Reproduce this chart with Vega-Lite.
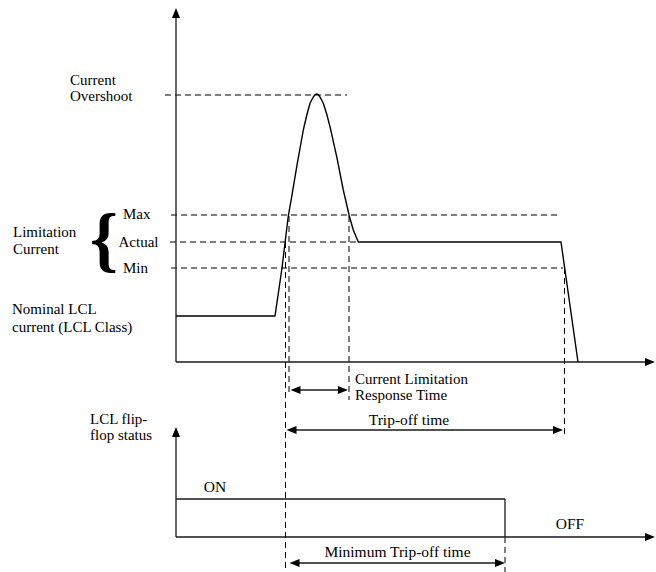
{
  "$schema": "https://vega.github.io/schema/vega-lite/v6.json",
  "width": 656,
  "height": 572,
  "autosize": "none",
  "padding": 0,
  "background": "white",
  "config": {"view": {"stroke": null}},
  "datasets": {
    "guides": [
      {"t": -11, "v": 267, "t2": 171, "v2": 267},
      {"t": -5, "v": 147, "t2": 382, "v2": 147},
      {"t": -6, "v": 120, "t2": 182, "v2": 120},
      {"t": -5, "v": 94, "t2": 387, "v2": 94},
      {"t": 109.5, "v": 120, "t2": 109.5, "v2": -210},
      {"t": 113, "v": 146, "t2": 113, "v2": -30},
      {"t": 173, "v": 146, "t2": 173, "v2": -38},
      {"t": 388.5, "v": 94, "t2": 388.5, "v2": -75},
      {"t": 329, "v": -175, "t2": 329, "v2": -210}
    ],
    "solid": [
      {"t": 0, "v": 0, "t2": 0, "v2": 346},
      {"t": 0, "v": 0, "t2": 471, "v2": 0},
      {"t": 0, "v": -175, "t2": 0, "v2": -73},
      {"t": 0, "v": -175, "t2": 471, "v2": -175},
      {"t": 0, "v": -137, "t2": 329, "v2": -137},
      {"t": 329, "v": -137, "t2": 329, "v2": -175},
      {"t": 118, "v": -28, "t2": 168, "v2": -28},
      {"t": 114, "v": -68, "t2": 383, "v2": -68},
      {"t": 117, "v": -201, "t2": 325, "v2": -201}
    ],
    "current": [
      {"t": 0, "v": 46},
      {"t": 99, "v": 46},
      {"t": 106, "v": 94},
      {"t": 109, "v": 119},
      {"t": 112.3, "v": 146},
      {"t": 115.7, "v": 165.3},
      {"t": 121.3, "v": 198.7},
      {"t": 127.3, "v": 232},
      {"t": 130.7, "v": 246.5},
      {"t": 134, "v": 258.7},
      {"t": 137.3, "v": 265},
      {"t": 139, "v": 267.3},
      {"t": 140.7, "v": 268},
      {"t": 142.4, "v": 267.3},
      {"t": 144, "v": 265},
      {"t": 147.3, "v": 258.7},
      {"t": 150.7, "v": 248},
      {"t": 154, "v": 235.3},
      {"t": 160.7, "v": 205.3},
      {"t": 167.3, "v": 172},
      {"t": 173.3, "v": 146},
      {"t": 177.3, "v": 132},
      {"t": 182.3, "v": 120},
      {"t": 385, "v": 120},
      {"t": 402, "v": 0}
    ],
    "heads": [
      {"t": 0, "v": 349, "dir": "up"},
      {"t": 474, "v": 0, "dir": "right"},
      {"t": 0, "v": -70, "dir": "up"},
      {"t": 474, "v": -175, "dir": "right"},
      {"t": 119.5, "v": -28, "dir": "left"},
      {"t": 167, "v": -28, "dir": "right"},
      {"t": 115.5, "v": -68, "dir": "left"},
      {"t": 382, "v": -68, "dir": "right"},
      {"t": 118.5, "v": -201, "dir": "left"},
      {"t": 324, "v": -201, "dir": "right"}
    ],
    "labelsLeft": [
      {"t": -106, "v": 277, "text": "Current"},
      {"t": -106, "v": 261, "text": "Overshoot"},
      {"t": -163, "v": 125.3, "text": "Limitation"},
      {"t": -163, "v": 107.7, "text": "Current"},
      {"t": -53, "v": 142.7, "text": "Max"},
      {"t": -57.5, "v": 115.3, "text": "Actual"},
      {"t": -53, "v": 89.3, "text": "Min"},
      {"t": -164, "v": 47.7, "text": "Nominal LCL"},
      {"t": -164, "v": 30.3, "text": "current (LCL Class)"},
      {"t": -86, "v": -62, "text": "LCL flip-"},
      {"t": -86, "v": -77.5, "text": "flop status"},
      {"t": 179, "v": -22, "text": "Current Limitation"},
      {"t": 179, "v": -37.5, "text": "Response Time"}
    ],
    "labelsCenter": [
      {"t": 39, "v": -129.7, "text": "ON"},
      {"t": 233, "v": -63, "text": "Trip-off time"},
      {"t": 394, "v": -167, "text": "OFF"},
      {"t": 221.5, "v": -195.3, "text": "Minimum Trip-off time"}
    ],
    "brace": [
      {"t": -58, "v": 99, "text": "{"}
    ]
  },
  "layer": [
    {
      "data": {"name": "guides"},
      "mark": {"type": "rule", "color": "black", "strokeWidth": 1, "strokeDash": [6, 4]},
      "encoding": {
        "x": {"field": "t", "type": "quantitative", "scale": {"domain": [-176, 480], "nice": false, "zero": false}, "axis": null},
        "y": {"field": "v", "type": "quantitative", "scale": {"domain": [-210, 362], "nice": false, "zero": false}, "axis": null},
        "x2": {"field": "t2"},
        "y2": {"field": "v2"}
      }
    },
    {
      "data": {"name": "solid"},
      "mark": {"type": "rule", "color": "#1a1a1a", "strokeWidth": 1.3},
      "encoding": {
        "x": {"field": "t", "type": "quantitative"},
        "y": {"field": "v", "type": "quantitative"},
        "x2": {"field": "t2"},
        "y2": {"field": "v2"}
      }
    },
    {
      "data": {"name": "current"},
      "mark": {"type": "line", "color": "black", "strokeWidth": 1.4, "strokeJoin": "round"},
      "encoding": {
        "x": {"field": "t", "type": "quantitative"},
        "y": {"field": "v", "type": "quantitative"}
      }
    },
    {
      "data": {"name": "heads"},
      "mark": {"type": "point", "filled": true, "color": "black", "opacity": 1, "size": 100, "strokeWidth": 0},
      "encoding": {
        "x": {"field": "t", "type": "quantitative"},
        "y": {"field": "v", "type": "quantitative"},
        "shape": {
          "field": "dir",
          "type": "nominal",
          "scale": {
            "domain": ["up", "right", "left"],
            "range": ["M0,-1L0.8,1L-0.8,1Z", "M1,0L-1,-0.8L-1,0.8Z", "M-1,0L1,-0.8L1,0.8Z"]
          },
          "legend": null
        }
      }
    },
    {
      "data": {"name": "labelsLeft"},
      "mark": {"type": "text", "align": "left", "baseline": "alphabetic", "font": "Liberation Serif", "fontSize": 15, "color": "black"},
      "encoding": {
        "x": {"field": "t", "type": "quantitative"},
        "y": {"field": "v", "type": "quantitative"},
        "text": {"field": "text"}
      }
    },
    {
      "data": {"name": "labelsCenter"},
      "mark": {"type": "text", "align": "center", "baseline": "alphabetic", "font": "Liberation Serif", "fontSize": 15.5, "color": "black"},
      "encoding": {
        "x": {"field": "t", "type": "quantitative"},
        "y": {"field": "v", "type": "quantitative"},
        "text": {"field": "text"}
      }
    },
    {
      "data": {"name": "brace"},
      "mark": {"type": "text", "align": "right", "baseline": "alphabetic", "font": "Liberation Serif", "fontSize": 72, "fontWeight": "bold", "color": "black"},
      "encoding": {
        "x": {"field": "t", "type": "quantitative"},
        "y": {"field": "v", "type": "quantitative"},
        "text": {"field": "text"}
      }
    }
  ]
}
